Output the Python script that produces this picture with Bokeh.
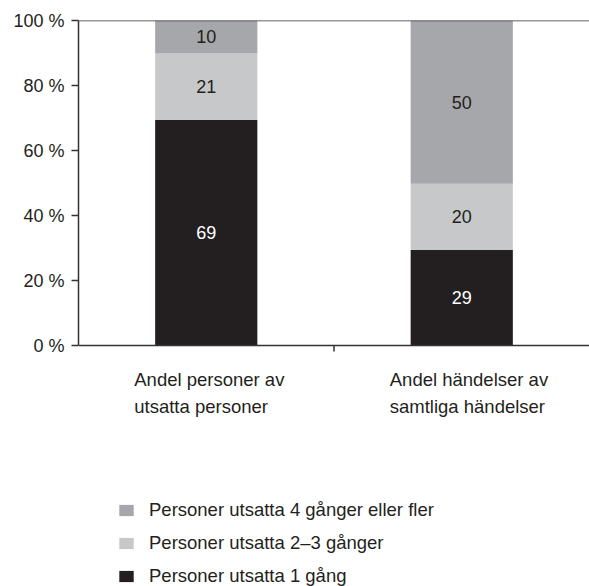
from bokeh.plotting import figure
from bokeh.models import (Range1d, FixedTicker, Span, Legend, LegendItem,
                          ColumnDataSource)
from bokeh.core.properties import value
from bokeh.embed import file_html
from bokeh.resources import INLINE

# ---- data ----
categories = ["Andel personer av\nutsatta personer",
              "Andel händelser av\nsamtliga händelser"]
series_names = ["Personer utsatta 1 gång",
                "Personer utsatta 2–3 gånger",
                "Personer utsatta 4 gånger eller fler"]
once = [69.4, 29.4]
two_three = [20.6, 20.4]
four_plus = [10.0, 50.2]
y_ticks = [0, 20, 40, 60, 80, 100]

colors = ["#231f20", "#c7c8ca", "#a6a7aa"]
label_colors = ["#ffffff", "#231f20", "#231f20"]
FONT = "Liberation Sans"
TXT = "#231f20"
LINE = "#333333"

n = len(categories)
xs = [i + 0.5 for i in range(n)]
# frame: 0..100 % occupies the upper 325 px; the rest holds labels + legend
PX_PER_UNIT = 3.25
FRAME_TOP, H = 20, 586
y_start = 100 - (H - FRAME_TOP) / PX_PER_UNIT

p = figure(width=589, height=H, output_backend="svg", toolbar_location=None,
           x_range=Range1d(0, n), y_range=Range1d(y_start, 100),
           x_axis_location=None,
           min_border_left=78, min_border_top=FRAME_TOP, min_border_right=0,
           min_border_bottom=0)
p.outline_line_color = None
p.grid.visible = False
p.background_fill_color = "white"

series = [once, two_three, four_plus]
renderers = []
bottoms = [0.0] * n
txt_x, txt_y, txt_t, txt_c = [], [], [], []
for k, vals in enumerate(series):
    tops = [b + v for b, v in zip(bottoms, vals)]
    src = ColumnDataSource(dict(x=xs, bottom=bottoms, top=tops))
    r = p.vbar(x="x", bottom="bottom", top="top", width=0.4, source=src,
               fill_color=colors[k], line_color=None)
    renderers.append(r)
    for i in range(n):
        txt_x.append(xs[i])
        txt_y.append((bottoms[i] + tops[i]) / 2)
        txt_t.append(str(round(vals[i])))
        txt_c.append(label_colors[k])
    bottoms = tops

p.text(x=txt_x, y=txt_y, text=txt_t, text_color=txt_c,
       text_align="center", text_baseline="middle",
       text_font=value(FONT), text_font_size="18px")

# top and bottom lines of the plot box
p.add_layout(Span(location=100, dimension="width", line_color=LINE,
                  line_width=1.5))
p.add_layout(Span(location=0, dimension="width", line_color=LINE,
                  line_width=1.5))

# tick between the categories
bounds_x = list(range(1, n))
p.segment(x0=bounds_x, y0=[0] * len(bounds_x), x1=bounds_x,
          y1=[-6 / PX_PER_UNIT] * len(bounds_x), line_color=LINE,
          line_width=1.5)

# category labels
p.text(x=xs, y=[0] * n, text=categories, text_align="left",
       text_baseline="top", x_offset=-72, y_offset=23,
       text_line_height=1.3, text_color=TXT,
       text_font=value(FONT), text_font_size="18.5px")

# y axis
ya = p.yaxis[0]
ya.bounds = (0, 100)
ya.ticker = FixedTicker(ticks=y_ticks, minor_ticks=[])
ya.major_label_overrides = {t: f"{t} %" for t in y_ticks}
ya.axis_line_color = LINE
ya.axis_line_width = 1.5
ya.major_tick_line_color = LINE
ya.major_tick_line_width = 1.5
ya.major_tick_out = 7
ya.major_tick_in = 0
ya.major_label_standoff = 7
ya.major_label_text_font = FONT
ya.major_label_text_font_size = "18px"
ya.major_label_text_color = TXT

# legend
items = [LegendItem(label=series_names[k], renderers=[renderers[k]])
         for k in (2, 1, 0)]
legend = Legend(items=items, location=(39, -1), padding=0, margin=0,
                spacing=11, glyph_width=18, glyph_height=14,
                label_standoff=14, label_text_font=FONT,
                label_text_font_size="18.5px", label_text_color=TXT,
                border_line_color=None, background_fill_alpha=0)
p.add_layout(legend, "center")

open("out.html", "w").write(file_html(p, INLINE))
